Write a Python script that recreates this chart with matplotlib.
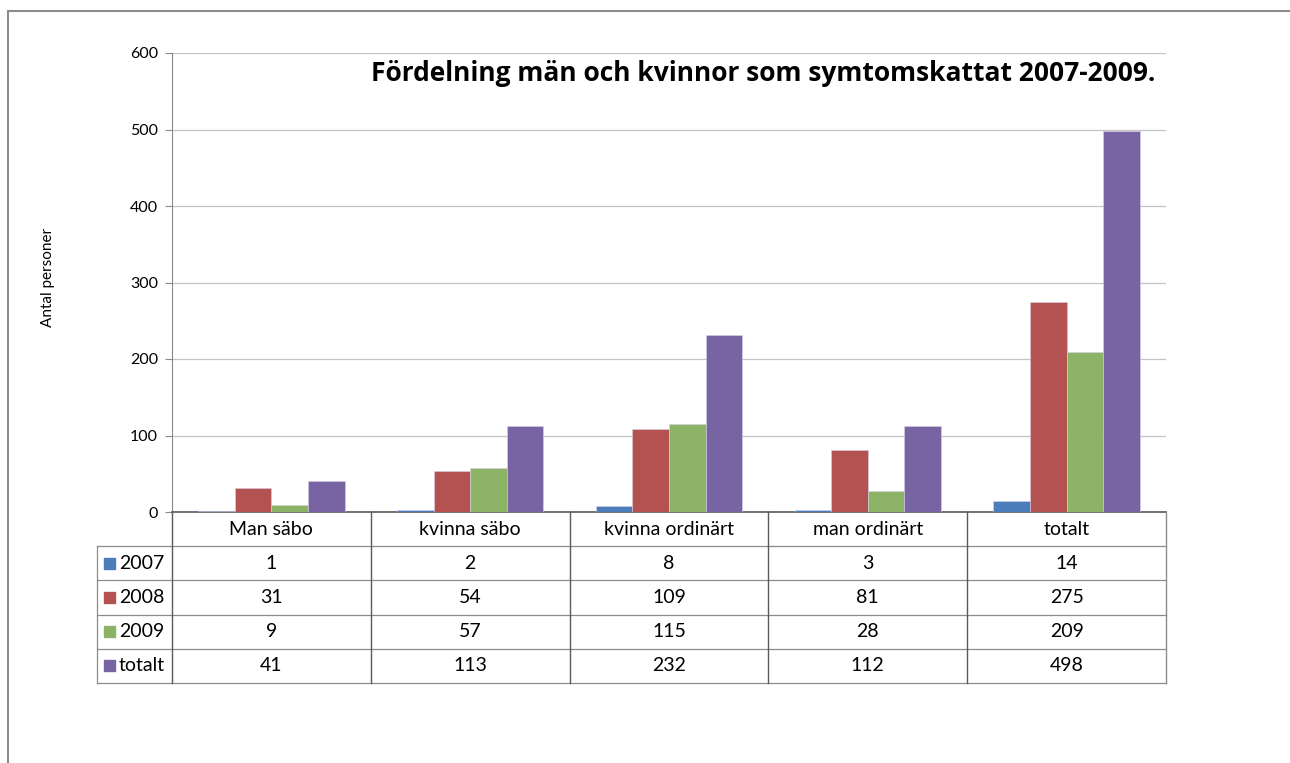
import matplotlib
matplotlib.use("Agg")
import matplotlib.pyplot as plt
from matplotlib.patches import Rectangle
import numpy as np

plt.rcParams['font.family'] = ['Lato', 'DejaVu Sans']

categories = ["Man säbo", "kvinna säbo", "kvinna ordinärt", "man ordinärt", "totalt"]
series_names = ["2007", "2008", "2009", "totalt"]
v2007 = [1, 2, 8, 3, 14]
v2008 = [31, 54, 109, 81, 275]
v2009 = [9, 57, 115, 28, 209]
vtot = [41, 113, 232, 112, 498]
series_values = [v2007, v2008, v2009, vtot]
colors = ["#4A7DBA", "#B45252", "#8CB366", "#7864A2"]
title = "Fördelning män och kvinnor som symtomskattat 2007-2009."
ylabel = "Antal personer"

W, H = 1290, 763
fig = plt.figure(figsize=(W / 100, H / 100), dpi=100)

def px_rect(x0, y0, x1, y1):
    return [x0 / W, 1 - y1 / H, (x1 - x0) / W, (y1 - y0) / H]

# outer frame
fig.patches.append(Rectangle((8 / W, -0.1), 1.2, 1 - 11 / H + 0.1, transform=fig.transFigure,
                             fill=False, edgecolor="#8C8C8C", linewidth=1.5))

ax = fig.add_axes(px_rect(172, 53, 1166, 512))
n = len(categories)
x = np.arange(n)
w = 0.184
for j, (vals, c) in enumerate(zip(series_values, colors)):
    ax.bar(x + (j - 1.5) * w, vals, width=w, color=c, edgecolor="#D8D0E4", linewidth=0.4, zorder=3)

ax.set_xlim(-0.5, n - 0.5)
ax.set_ylim(0, 600)
ax.set_yticks(range(0, 601, 100))
ax.tick_params(axis='y', labelsize=11.5, length=5, color="#888888", pad=5)
ax.set_xticks([])
ax.grid(axis='y', color="#C4C4C4", linewidth=0.9, zorder=0)
for s in ["top", "right"]:
    ax.spines[s].set_visible(False)
ax.spines["left"].set_color("#888888")
ax.spines["bottom"].set_color("#5A5A5A")
ax.spines["bottom"].set_linewidth(1.2)
ax.text(0.989, 0.955, title, transform=ax.transAxes, ha="right", va="center",
        fontsize=19, fontweight="bold", family=["Open Sans", "DejaVu Sans"])
fig.text(48 / W, 1 - 277 / H, ylabel, rotation=90, ha="center", va="center", fontsize=11)

# data table
tx0, tx1, ty0, ty1 = 97, 1166, 512, 683
tab = fig.add_axes(px_rect(tx0, ty0, tx1, ty1))
left_units = (172 - 97) / ((1166 - 172) / n)
tab.set_xlim(-0.5 - left_units, n - 0.5)
tab.set_ylim(5, 0)
tab.axis("off")
lc = "#8C8C8C"
for r in range(1, 6):
    tab.plot([-0.5 - left_units, n - 0.5], [r, r], color=lc, linewidth=0.9, clip_on=False)
tab.plot([-0.5 - left_units] * 2, [1, 5], color=lc, linewidth=0.9, clip_on=False)
for k in range(n + 1):
    tab.plot([k - 0.5] * 2, [0, 5], color="#5A5A5A" if k < n else lc, linewidth=1.0, clip_on=False)
fs = 14
for i, cat in enumerate(categories):
    tab.text(i, 0.5, cat, ha="center", va="center", fontsize=fs)
for r, (name, vals, c) in enumerate(zip(series_names, series_values, colors), start=1):
    for i, v in enumerate(vals):
        tab.text(i, r + 0.5, str(v), ha="center", va="center", fontsize=fs)
    lx = -0.5 - left_units + 7 / 198.8
    tab.add_patch(Rectangle((lx, r + 0.5 - 0.16), 11 / 198.8, 0.32, color=c, clip_on=False))
    tab.text(lx + 15 / 198.8, r + 0.5, name, ha="left", va="center", fontsize=fs)

fig.savefig("out.png", dpi=100)
